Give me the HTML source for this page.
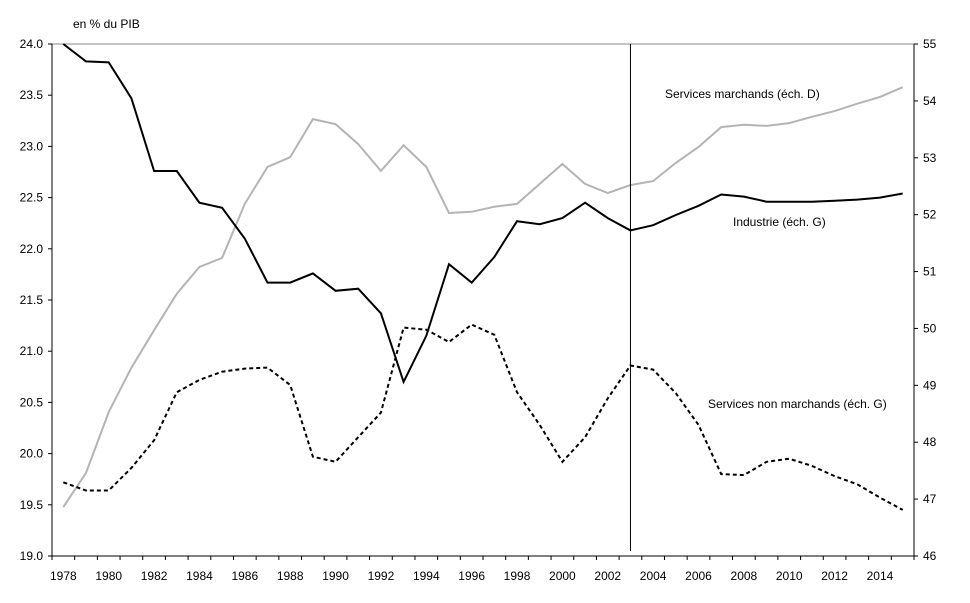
<!DOCTYPE html>
<html><head><meta charset="utf-8"><style>
body{margin:0;background:#fff;}
svg{display:block;font-family:"Liberation Sans",sans-serif;font-size:12px;}
</style></head><body>
<svg id="chart" width="970" height="603" xmlns="http://www.w3.org/2000/svg"></svg>
<script>
const years=[];for(let y=1978;y<=2015;y++)years.push(y);
const industrie=[24.0,23.83,23.82,23.47,22.76,22.76,22.45,22.40,22.10,21.67,21.67,21.76,21.59,21.61,21.37,20.70,21.15,21.85,21.67,21.92,22.27,22.24,22.30,22.45,22.30,22.18,22.23,22.33,22.42,22.53,22.51,22.46,22.46,22.46,22.47,22.48,22.50,22.54];
const nonMarchands=[19.72,19.64,19.64,19.86,20.13,20.6,20.72,20.8,20.83,20.84,20.67,19.97,19.92,20.16,20.4,21.23,21.21,21.09,21.26,21.16,20.6,20.28,19.92,20.16,20.54,20.86,20.82,20.59,20.28,19.8,19.79,19.92,19.95,19.88,19.78,19.7,19.57,19.45];
const marchands=[46.86,47.46,48.53,49.31,49.97,50.61,51.08,51.24,52.19,52.84,53.01,53.68,53.59,53.24,52.77,53.22,52.84,52.03,52.05,52.14,52.19,52.54,52.89,52.54,52.38,52.52,52.59,52.91,53.19,53.54,53.58,53.56,53.61,53.72,53.82,53.95,54.07,54.24];
const leftTicks=[19.0,19.5,20.0,20.5,21.0,21.5,22.0,22.5,23.0,23.5,24.0];
const rightTicks=[46,47,48,49,50,51,52,53,54,55];
const xLabels=[1978,1980,1982,1984,1986,1988,1990,1992,1994,1996,1998,2000,2002,2004,2006,2008,2010,2012,2014];
const L=52,R=914,T=44,B=556;
const step=(R-L)/years.length;
const x=y=>L+(years.indexOf(y)+0.5)*step;
const yL=v=>B-(v-19)/5*(B-T);
const yR=v=>B-(v-46)/9*(B-T);
const svg=document.getElementById('chart');
const NS='http://www.w3.org/2000/svg';
function el(t,a,p){const e=document.createElementNS(NS,t);for(const k in a)e.setAttribute(k,a[k]);(p||svg).appendChild(e);return e;}
let e;
e=el('line',{x1:L,y1:T,x2:R,y2:T,stroke:'#888'});


e=el('line',{x1:L,y1:T,x2:L,y2:B,stroke:'#000'});


e=el('line',{x1:R,y1:T,x2:R,y2:B,stroke:'#000'});


e=el('line',{x1:L,y1:B,x2:R,y2:B,stroke:'#000'});


leftTicks.forEach(v=>{
 el('line',{x1:L-4,y1:yL(v),x2:L,y2:yL(v),stroke:'#000'});
 e=el('text',{x:L-9,y:yL(v)+4,'text-anchor':'end'});e.textContent=v.toFixed(1);
 
 
});
rightTicks.forEach(v=>{
 el('line',{x1:R,y1:yR(v),x2:R+4,y2:yR(v),stroke:'#000'});
 e=el('text',{x:R+9,y:yR(v)+4});e.textContent=v;
 
 
});
for(let i=0;i<=years.length;i++)el('line',{x1:L+i*step,y1:B,x2:L+i*step,y2:B+4,stroke:'#000'});
xLabels.forEach(v=>{
 e=el('text',{x:x(v),y:B+24,'text-anchor':'middle'});e.textContent=v;
 
 
});
e=el('text',{x:73,y:28});e.textContent='en % du PIB';


function line(vals,fy,attrs,name){
 const d=vals.map((v,i)=>(i?'L':'M')+x(years[i]).toFixed(1)+','+fy(v).toFixed(1)).join('');
 const p=el('path',Object.assign({d:d,fill:'none'},attrs));
 
 
}
line(marchands,yR,{stroke:'#b4b4b4','stroke-width':2},'services-marchands-line');
line(nonMarchands,yL,{stroke:'#000','stroke-width':2,'stroke-dasharray':'4,3'},'services-non-marchands-line');
line(industrie,yL,{stroke:'#000','stroke-width':2},'industrie-line');
e=el('line',{x1:x(2003),y1:T,x2:x(2003),y2:B-5,stroke:'#000'});


e=el('text',{x:665,y:98});e.textContent='Services marchands (éch. D)';


e=el('text',{x:733,y:226});e.textContent='Industrie (éch. G)';


e=el('text',{x:708,y:408});e.textContent='Services non marchands (éch. G)';


</script>
</body></html>
